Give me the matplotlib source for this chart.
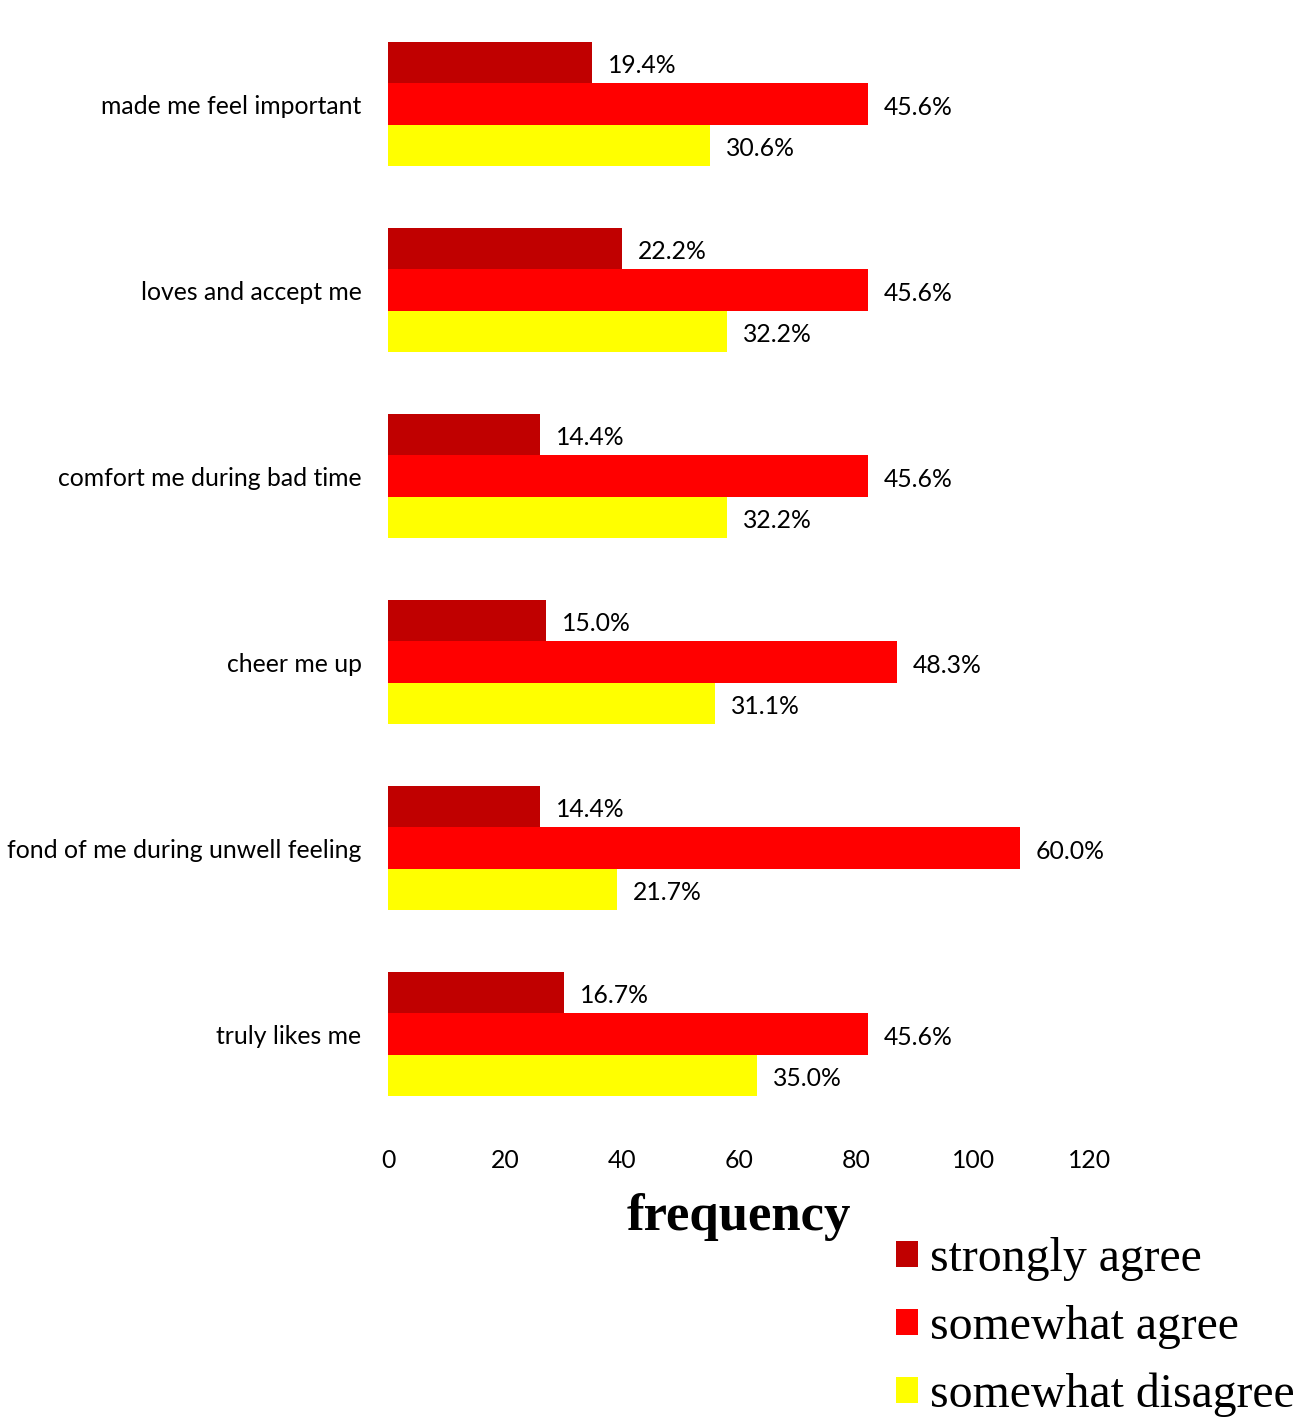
import numpy as np
import matplotlib.pyplot as plt
from matplotlib.patches import Patch

# Survey responses (n = 180), percentage of respondents per answer
n_resp = 180
items = [
    "made me feel important",
    "loves and accept me",
    "comfort me during bad time",
    "cheer me up",
    "fond of me during unwell feeling",
    "truly likes me",
]
pct_strongly_agree = [19.4, 22.2, 14.4, 15.0, 14.4, 16.7]
pct_somewhat_agree = [45.6, 45.6, 45.6, 48.3, 60.0, 45.6]
pct_somewhat_disagree = [30.6, 32.2, 32.2, 31.1, 21.7, 35.0]
series_names = ["strongly agree", "somewhat agree", "somewhat disagree"]
x_ticks = [0, 20, 40, 60, 80, 100, 120]

colores = ["#C00000", "#FF0000", "#FFFF00"]
fuente = ["Lato", "DejaVu Sans"]
tam = 17.8

fig = plt.figure(figsize=(13.16, 14.18), dpi=100)
ax = fig.add_axes([388 / 1316, 1 - 1127 / 1418, 702 / 1316, 1116 / 1418])

y = np.arange(len(items))
alto = 0.223
series = [pct_strongly_agree, pct_somewhat_agree, pct_somewhat_disagree]

for i, (pct, color) in enumerate(zip(series, colores)):
    # frecuencia = porcentaje * n / 100
    frec = np.array(pct) * n_resp / 100
    barras = ax.barh(y + (i - 1) * alto, frec, height=alto, color=color, lw=0)
    for b, p in zip(barras, pct):
        ax.annotate(
            f"{p:.1f}%",
            (b.get_width(), b.get_y() + b.get_height() / 2),
            xytext=(11.5, -2.5),
            textcoords="offset points",
            va="center",
            ha="left",
            fontsize=tam,
            family=fuente,
        )

ax.set_xlim(0, 120)
ax.set_ylim(len(items) - 0.5, -0.5)
ax.set_xticks(x_ticks)
ax.set_yticks(y)
ax.set_yticklabels(items)
for lab in ax.get_xticklabels() + ax.get_yticklabels():
    lab.set_family(fuente)
    lab.set_fontsize(tam)
ax.tick_params(axis="x", length=0, pad=16)
ax.tick_params(axis="y", length=0, pad=19)
for s in ax.spines.values():
    s.set_visible(False)

ax.set_xlabel("frequency", family="Liberation Serif", fontweight="bold", fontsize=38, labelpad=15)

handles = [Patch(facecolor=c, edgecolor="none") for c in colores]
fig.legend(
    handles,
    series_names,
    loc="upper left",
    bbox_to_anchor=(896 / 1316, 1 - 1237 / 1418),
    frameon=False,
    prop={"family": "Liberation Serif", "size": 34.4},
    handlelength=0.46,
    handleheight=0.46,
    handletextpad=0.25,
    labelspacing=0.5,
    borderpad=0,
    borderaxespad=0,
)

fig.savefig("out.png", dpi=100)
